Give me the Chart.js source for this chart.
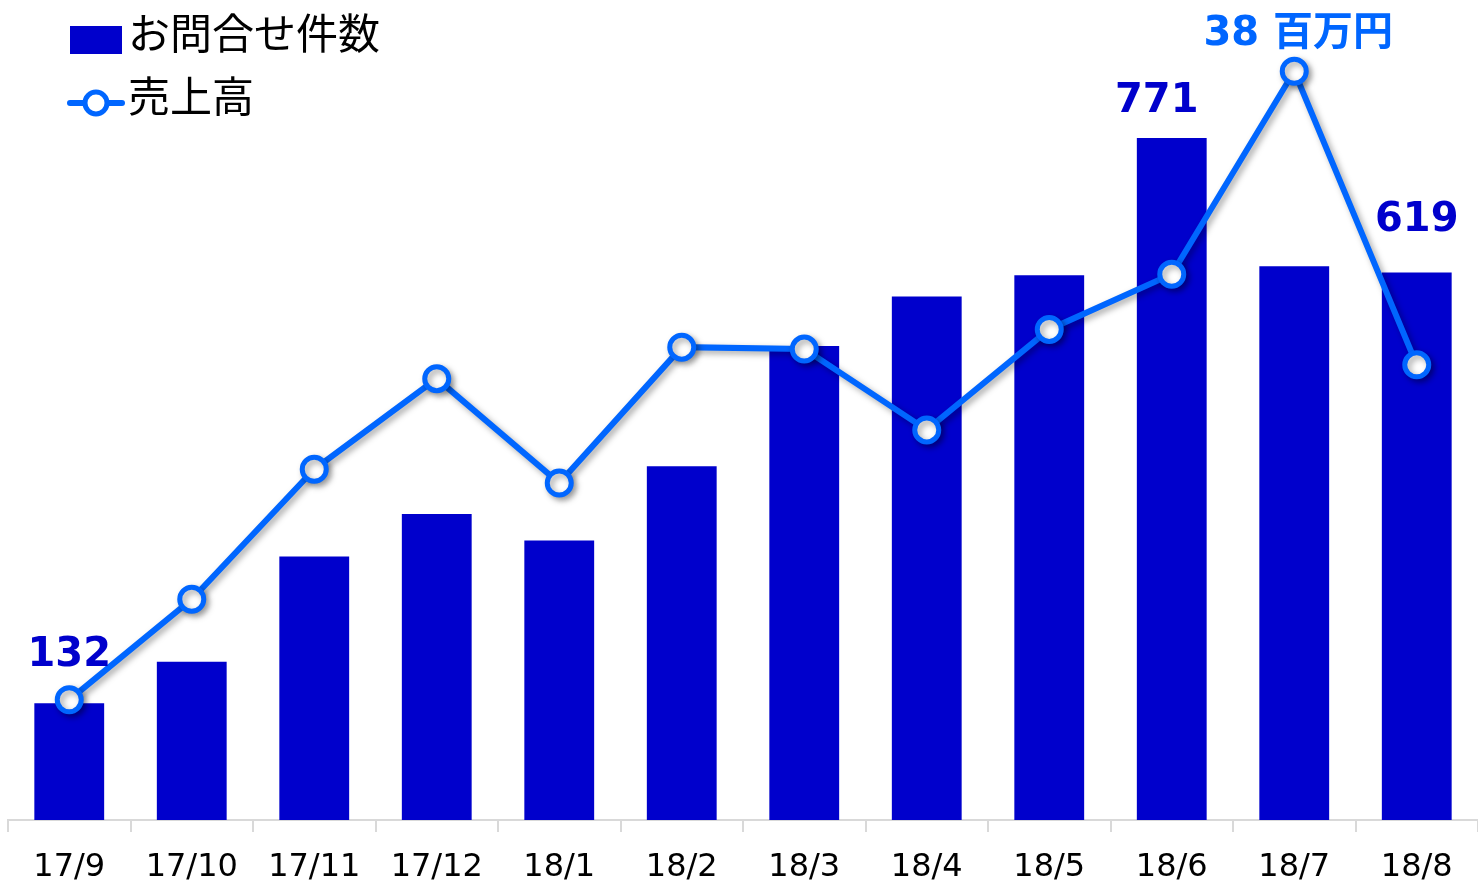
<!DOCTYPE html>
<html>
<head>
<meta charset="utf-8">
<script src="https://cdn.jsdelivr.net/npm/chart.js@4.4.1/dist/chart.umd.min.js"></script>
<style>
  html, body { margin: 0; padding: 0; background: #fff; }
  #wrap { position: relative; width: 1478px; height: 882px; }
</style>
</head>
<body>
<div id="wrap"><canvas id="chart" width="1478" height="882"></canvas></div>
<script>
// データ
const categories = ['17/9', '17/10', '17/11', '17/12', '18/1', '18/2', '18/3', '18/4', '18/5', '18/6', '18/7', '18/8'];
const inquiries = [132, 179, 298, 346, 316, 400, 536, 592, 616, 771, 626, 619]; // お問合せ件数
const sales = [6.1, 11.2, 17.8, 22.4, 17.1, 24.0, 23.9, 19.8, 24.9, 27.7, 38, 23.1]; // 売上高 (百万円)
const seriesNames = ['お問合せ件数', '売上高'];

const BAR_COLOR = '#0000CC';
const LINE_COLOR = '#0066FF';

// 値ラベル (どの点に付けるか)
const callouts = [
    { text: String(inquiries[0]), on: 'line', i: 0, dx: 0, dy: -34, color: BAR_COLOR },
    { text: String(inquiries[9]), on: 'bar', i: 9, dx: -15, dy: -26, color: BAR_COLOR },
    { text: sales[10] + ' 百万円', on: 'line', i: 10, dx: 4, dy: -26, color: LINE_COLOR },
    { text: String(inquiries[11]), on: 'bar', i: 11, dx: 0, dy: -42, color: BAR_COLOR }
];

// 線の影
const shadowPlugin = {
    id: 'lineShadow',
    beforeDatasetDraw(chart, args) {
        if (args.index !== 1) return;
        const ctx = chart.ctx;
        ctx.save();
        ctx.shadowColor = 'rgba(0,0,0,0.35)';
        ctx.shadowBlur = 6;
        ctx.shadowOffsetX = 3;
        ctx.shadowOffsetY = 3;
    },
    afterDatasetDraw(chart, args) {
        if (args.index !== 1) return;
        chart.ctx.restore();
    }
};

// 値ラベルと凡例
const labelPlugin = {
    id: 'labels',
    afterDatasetsDraw(chart) {
        const ctx = chart.ctx;
        const barMeta = chart.getDatasetMeta(0);
        const lineMeta = chart.getDatasetMeta(1);
        ctx.save();
        ctx.textAlign = 'center';
        ctx.textBaseline = 'alphabetic';
        ctx.font = "bold 40px 'DejaVu Sans', 'Noto Sans CJK JP'";
        callouts.forEach(c => {
            const el = (c.on === 'bar' ? barMeta : lineMeta).data[c.i];
            ctx.fillStyle = c.color;
            ctx.fillText(c.text, el.x + c.dx, el.y + c.dy);
        });

        // 凡例
        ctx.fillStyle = BAR_COLOR;
        ctx.fillRect(70, 26, 52, 28);

        ctx.strokeStyle = LINE_COLOR;
        ctx.lineWidth = 6;
        ctx.lineCap = 'round';
        ctx.beginPath();
        ctx.moveTo(70, 103);
        ctx.lineTo(122, 103);
        ctx.stroke();
        ctx.beginPath();
        ctx.arc(96, 103, 11, 0, Math.PI * 2);
        ctx.fillStyle = '#fff';
        ctx.fill();
        ctx.lineWidth = 5;
        ctx.stroke();

        ctx.fillStyle = '#000';
        ctx.textAlign = 'left';
        ctx.textBaseline = 'middle';
        ctx.font = "42px 'Noto Sans CJK JP'";
        ctx.fillText(seriesNames[0], 128, 33);
        ctx.fillText(seriesNames[1], 128, 96);
        ctx.restore();
    }
};

const ctx = document.getElementById('chart').getContext('2d');
new Chart(ctx, {
    type: 'bar',
    data: {
        labels: categories,
        datasets: [{
            type: 'bar',
            label: seriesNames[0],
            data: inquiries,
            backgroundColor: BAR_COLOR,
            barPercentage: 0.57,
            categoryPercentage: 1,
            yAxisID: 'y',
            order: 1
        }, {
            type: 'line',
            label: seriesNames[1],
            data: sales,
            borderColor: LINE_COLOR,
            borderWidth: 6,
            pointRadius: 12,
            pointBorderWidth: 5,
            pointBackgroundColor: '#fff',
            pointBorderColor: LINE_COLOR,
            tension: 0,
            yAxisID: 'y2',
            order: 0
        }]
    },
    options: {
        responsive: false,
        animation: false,
        layout: { autoPadding: false, padding: { top: 24, left: 8, right: 0, bottom: 1 } },
        plugins: {
            legend: { display: false },
            tooltip: { enabled: false }
        },
        scales: {
            x: {
                afterFit(scale) { scale.height = 61; },
                grid: {
                    offset: true,
                    drawOnChartArea: false,
                    drawTicks: true,
                    tickLength: 12,
                    color: '#d9d9d9',
                    lineWidth: 2
                },
                border: { color: '#d9d9d9', width: 2 },
                ticks: {
                    color: '#000',
                    padding: 20,
                    font: { family: "'DejaVu Sans'", size: 32, lineHeight: 1 }
                }
            },
            y: { display: false, min: 0, max: 900 },
            y2: { display: false, min: 0, max: 40.4 }
        }
    },
    plugins: [shadowPlugin, labelPlugin]
});
</script>
</body>
</html>
